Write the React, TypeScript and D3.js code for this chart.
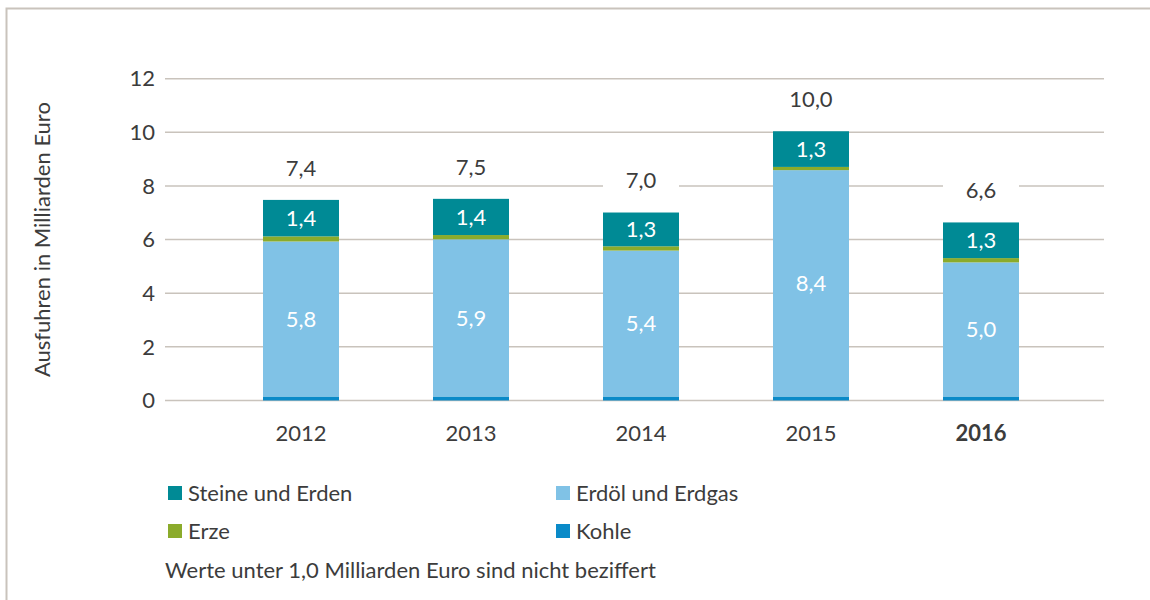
import React from 'react';
import * as d3 from 'd3';

const years = ['2012', '2013', '2014', '2015', '2016'];
const kohle = [0.15, 0.15, 0.15, 0.15, 0.15];
const erdoel = [5.78, 5.86, 5.44, 8.44, 5.0];
const erze = [0.19, 0.16, 0.16, 0.12, 0.16];
const steine = [1.36, 1.35, 1.26, 1.33, 1.33];
const totals = [7.4, 7.5, 7.0, 10.0, 6.6];
const yTicks = [0, 2, 4, 6, 8, 10, 12];

const seriesKeys = ['kohle', 'erdoel', 'erze', 'steine'];
const seriesNames = { kohle: 'Kohle', erdoel: 'Erdöl und Erdgas', erze: 'Erze', steine: 'Steine und Erden' };
const colors = { kohle: '#0a8ac8', erdoel: '#80c2e6', erze: '#8bab2b', steine: '#008a95' };

const FONT = 'Lato, "Noto Sans", sans-serif';
const FS = 22;
const TXT = '#3c3c3c';
const GRID = '#c9c3bc';

export default function App() {
  const width = 1150;
  const height = 600;

  const rows = years.map((year, i) => ({
    year,
    kohle: kohle[i],
    erdoel: erdoel[i],
    erze: erze[i],
    steine: steine[i],
  }));
  const stacked = d3.stack<any>().keys(seriesKeys)(rows);

  const x = d3.scaleBand().domain(years).range([216, 1066]).paddingInner(0.553).paddingOuter(0.2765);
  const y = d3.scaleLinear().domain([0, 12]).range([400.5, 78.7]);
  const fmt = (v: number) => d3.format('.1f')(v).replace('.', ',');

  const legend = [
    { key: 'steine', x: 168, y: 493 },
    { key: 'erdoel', x: 556, y: 493 },
    { key: 'erze', x: 168, y: 531 },
    { key: 'kohle', x: 556, y: 531 },
  ];

  return (
    <svg width={width} height={height} style={{ position: 'absolute', left: 0, top: 0 }} fontFamily={FONT}>
      <rect width={width} height={height} fill="#fff" />
      {/* frame */}
      <path d={`M6.5,${height} V8.5 H${width}`} fill="none" stroke={GRID} strokeWidth={2} />

      {/* gridlines + y ticks */}
      {yTicks.map((t) => (
        <g key={t}>
          <line x1={165} x2={1104} y1={y(t)} y2={y(t)} stroke={GRID} strokeWidth={1.5} />
          <text x={155} y={y(t)} dy="0.35em" textAnchor="end" fontSize={FS} fill={TXT}>
            {t}
          </text>
        </g>
      ))}

      <text
        transform={`translate(42,${(y(0) + y(12)) / 2}) rotate(-90)`}
        textAnchor="middle"
        dy="0.35em"
        fontSize={FS}
        fill={TXT}
      >
        Ausfuhren in Milliarden Euro
      </text>

      {/* bars */}
      {stacked.map((s) => (
        <g key={s.key} fill={colors[s.key]}>
          {s.map((d, i) => (
            <rect
              key={i}
              x={x(years[i])}
              width={x.bandwidth()}
              y={y(d[1])}
              height={y(d[0]) - y(d[1])}
            />
          ))}
        </g>
      ))}

      {/* segment labels */}
      {stacked.map((s) =>
        s.map((d, i) => {
          const v = d[1] - d[0];
          if (v < 1) return null;
          return (
            <text
              key={s.key + i}
              x={x(years[i]) + x.bandwidth() / 2}
              y={(y(d[0]) + y(d[1])) / 2}
              dy="0.35em"
              textAnchor="middle"
              fontSize={FS}
              fill="#fff"
            >
              {fmt(v)}
            </text>
          );
        })
      )}

      {/* totals */}
      {years.map((yr, i) => {
        const top = y(stacked[stacked.length - 1][i][1]);
        return (
          <g key={yr}>
            <rect x={x(yr)} y={top - 46} width={x.bandwidth()} height={28} fill="#fff" />
            <text
              x={x(yr) + x.bandwidth() / 2}
              y={top - 32}
              dy="0.35em"
              textAnchor="middle"
              fontSize={FS}
              fill={TXT}
            >
              {fmt(totals[i])}
            </text>
          </g>
        );
      })}

      {/* x axis labels */}
      {years.map((yr, i) => (
        <text
          key={yr}
          x={x(yr) + x.bandwidth() / 2}
          y={433}
          dy="0.35em"
          textAnchor="middle"
          fontSize={FS}
          fontWeight={i === years.length - 1 ? 'bold' : 'normal'}
          fill={TXT}
        >
          {yr}
        </text>
      ))}

      {/* legend */}
      {legend.map((l) => (
        <g key={l.key}>
          <rect x={l.x} y={l.y - 7} width={14} height={14} fill={colors[l.key]} />
          <text x={l.x + 20} y={l.y} dy="0.35em" fontSize={FS} fill={TXT}>
            {seriesNames[l.key]}
          </text>
        </g>
      ))}
      <text x={165} y={570} dy="0.35em" fontSize={FS} fill={TXT}>
        Werte unter 1,0 Milliarden Euro sind nicht beziffert
      </text>
    </svg>
  );
}
